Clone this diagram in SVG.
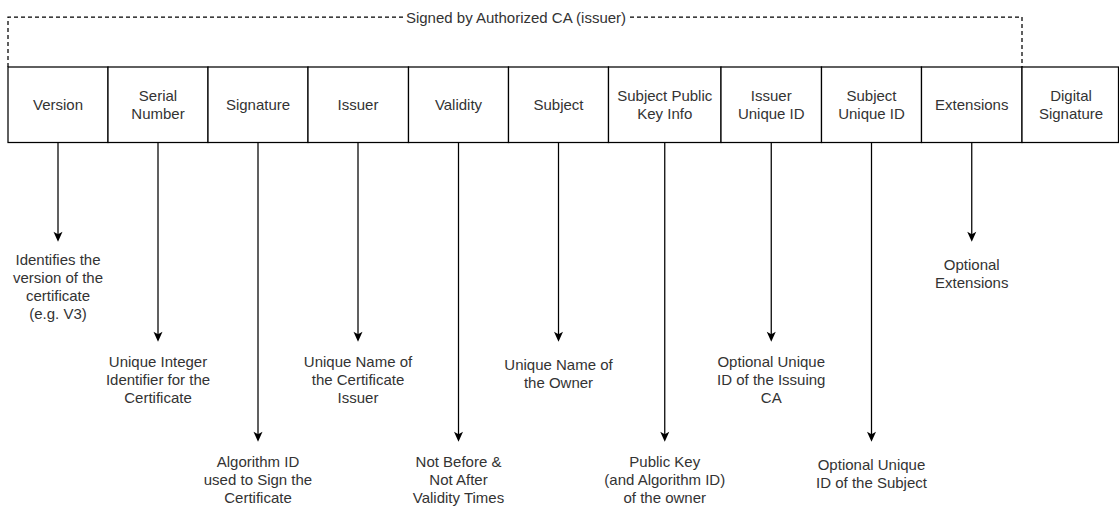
<svg xmlns="http://www.w3.org/2000/svg" width="1119" height="507" viewBox="0 0 1119 507">
<style>
  .box { fill: #ffffff; stroke: #000000; stroke-width: 1.25; }
  .t { font-family: "Liberation Sans", Arial, sans-serif; font-size: 15px; fill: #333333; text-anchor: middle; }
  .conn { stroke: #000000; stroke-width: 1.25; fill: none; marker-end: url(#arr); }
  .dash { stroke: #000000; stroke-width: 1.25; fill: none; stroke-dasharray: 4 3; }
</style>
<defs>
  <marker id="arr" markerUnits="userSpaceOnUse" markerWidth="12" markerHeight="12" viewBox="0 0 12 12" refX="7" refY="6" orient="auto">
    <path d="M1,1.5 L11,6 L1,10.5 L3.5,6 Z" fill="#000000"/>
  </marker>
</defs>
<rect width="1119" height="507" fill="#ffffff"/>

<g id="signed-by">
  <path class="dash" d="M8,67 L8,17 L1022,17 L1022,67"/>
  <rect x="405" y="9" width="222" height="17" fill="#ffffff"/>
  <text class="t" x="516" y="22.5">Signed by Authorized CA (issuer)</text>
</g>

<g id="version"><rect class="box" x="8" y="67" width="100" height="75.5"/><text class="t" x="58" y="110">Version</text></g>
<g id="serial-number"><rect class="box" x="108" y="67" width="100" height="75.5"/><text class="t" x="158" y="101">Serial</text><text class="t" x="158" y="119">Number</text></g>
<g id="signature"><rect class="box" x="208" y="67" width="100" height="75.5"/><text class="t" x="258" y="110">Signature</text></g>
<g id="issuer"><rect class="box" x="308" y="67" width="100.5" height="75.5"/><text class="t" x="358" y="110">Issuer</text></g>
<g id="validity"><rect class="box" x="408.5" y="67" width="100" height="75.5"/><text class="t" x="458.5" y="110">Validity</text></g>
<g id="subject"><rect class="box" x="508.5" y="67" width="100" height="75.5"/><text class="t" x="558.5" y="110">Subject</text></g>
<g id="subject-public-key-info"><rect class="box" x="608.5" y="67" width="112.5" height="75.5"/><text class="t" x="664.75" y="101">Subject Public</text><text class="t" x="664.75" y="119">Key Info</text></g>
<g id="issuer-unique-id"><rect class="box" x="721" y="67" width="100.5" height="75.5"/><text class="t" x="771.25" y="101">Issuer</text><text class="t" x="771.25" y="119">Unique ID</text></g>
<g id="subject-unique-id"><rect class="box" x="821.5" y="67" width="100" height="75.5"/><text class="t" x="871.5" y="101">Subject</text><text class="t" x="871.5" y="119">Unique ID</text></g>
<g id="extensions"><rect class="box" x="921.5" y="67" width="100.5" height="75.5"/><text class="t" x="971.75" y="110">Extensions</text></g>
<g id="digital-signature"><rect class="box" x="1022" y="67" width="96.5" height="75.5"/><text class="t" x="1071" y="101">Digital</text><text class="t" x="1071" y="119">Signature</text></g>

<g id="connectors">
  <line class="conn" x1="58" y1="142.5" x2="58" y2="237.7"/>
  <line class="conn" x1="158" y1="142.5" x2="158" y2="337.7"/>
  <line class="conn" x1="258" y1="142.5" x2="258" y2="437.7"/>
  <line class="conn" x1="358" y1="142.5" x2="358" y2="337.7"/>
  <line class="conn" x1="458.5" y1="142.5" x2="458.5" y2="437.7"/>
  <line class="conn" x1="558.5" y1="142.5" x2="558.5" y2="337.7"/>
  <line class="conn" x1="664.75" y1="142.5" x2="664.75" y2="437.7"/>
  <line class="conn" x1="771.25" y1="142.5" x2="771.25" y2="337.7"/>
  <line class="conn" x1="871.5" y1="142.5" x2="871.5" y2="437.7"/>
  <line class="conn" x1="971.75" y1="142.5" x2="971.75" y2="237.7"/>
</g>

<g id="label-version"><text class="t" x="58" y="265">Identifies the</text><text class="t" x="58" y="283">version of the</text><text class="t" x="58" y="301">certificate</text><text class="t" x="58" y="319">(e.g. V3)</text></g>
<g id="label-serial"><text class="t" x="158" y="367">Unique Integer</text><text class="t" x="158" y="385">Identifier for the</text><text class="t" x="158" y="403">Certificate</text></g>
<g id="label-signature"><text class="t" x="258" y="467">Algorithm ID</text><text class="t" x="258" y="485">used to Sign the</text><text class="t" x="258" y="503">Certificate</text></g>
<g id="label-issuer"><text class="t" x="358" y="367">Unique Name of</text><text class="t" x="358" y="385">the Certificate</text><text class="t" x="358" y="403">Issuer</text></g>
<g id="label-validity"><text class="t" x="458.5" y="467">Not Before &amp;</text><text class="t" x="458.5" y="485">Not After</text><text class="t" x="458.5" y="503">Validity Times</text></g>
<g id="label-subject"><text class="t" x="558.5" y="370">Unique Name of</text><text class="t" x="558.5" y="388">the Owner</text></g>
<g id="label-spki"><text class="t" x="664.75" y="467">Public Key</text><text class="t" x="664.75" y="485">(and Algorithm ID)</text><text class="t" x="664.75" y="503">of the owner</text></g>
<g id="label-issuer-uid"><text class="t" x="771.25" y="367">Optional Unique</text><text class="t" x="771.25" y="385">ID of the Issuing</text><text class="t" x="771.25" y="403">CA</text></g>
<g id="label-subject-uid"><text class="t" x="871.5" y="470">Optional Unique</text><text class="t" x="871.5" y="488">ID of the Subject</text></g>
<g id="label-extensions"><text class="t" x="971.75" y="270">Optional</text><text class="t" x="971.75" y="288">Extensions</text></g>
</svg>
